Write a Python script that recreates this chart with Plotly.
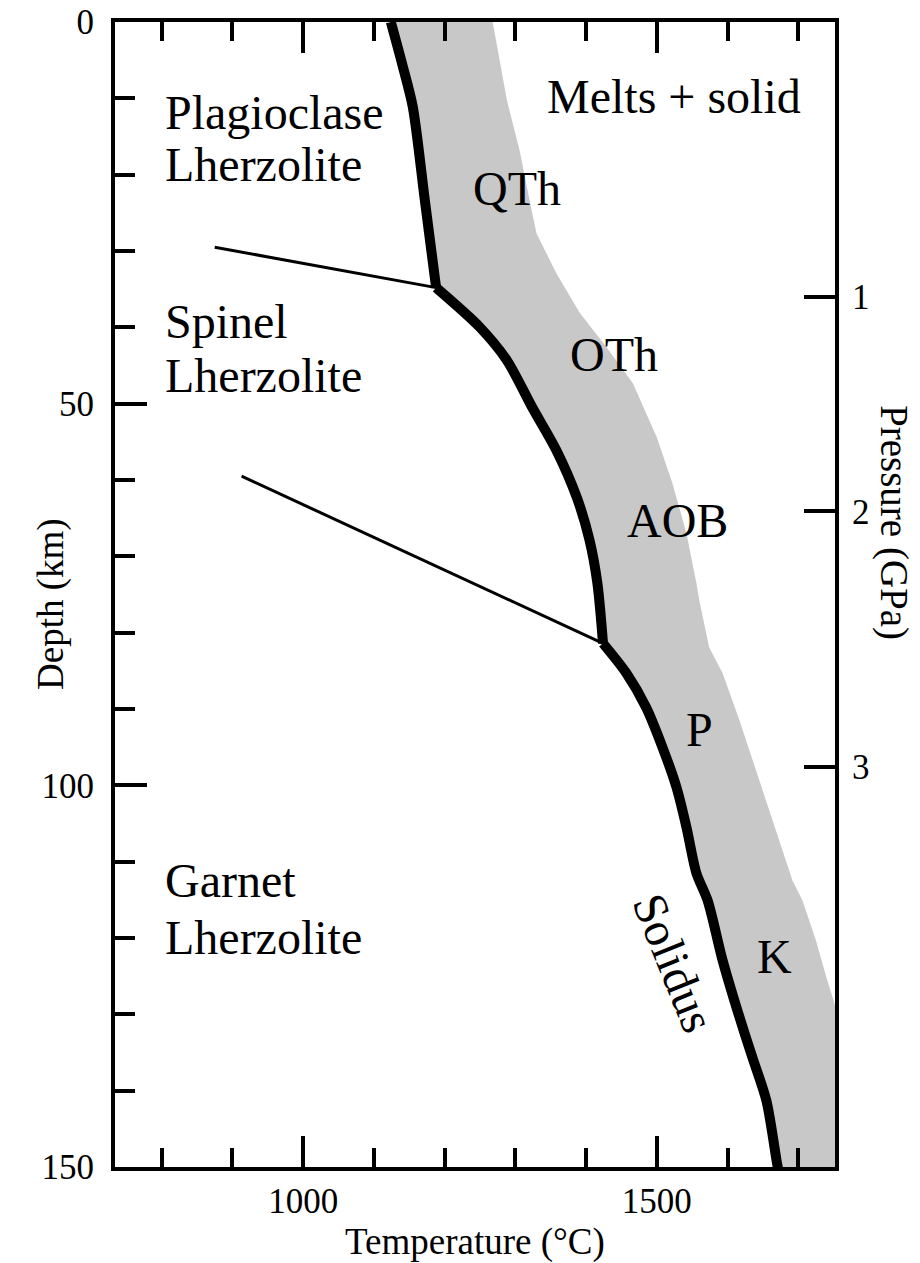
import plotly.graph_objects as go

# Solidus (temperature °C, depth km), three segments split at the phase-boundary kinks
sol_top_T = [1124, 1140, 1155, 1172, 1188]
sol_top_D = [0, 5.5, 11.1, 23.3, 34.8]
sol_mid_T = [1188, 1250, 1288, 1324, 1358, 1387, 1405, 1416, 1424]
sol_mid_D = [34.8, 40.0, 44.3, 50.5, 56.1, 62.3, 67.9, 73.5, 81.4]
sol_bot_T = [1424, 1457, 1485, 1508, 1528, 1542, 1556, 1572, 1593, 1614, 1635, 1655, 1670, 1673]
sol_bot_D = [81.4, 85.3, 89.8, 95.0, 100.3, 105.5, 111.5, 115.1, 122.9, 129.5, 135.6, 141.3, 149.5, 151]

# Right edge of melt band
band_T = [1268, 1288, 1306, 1320, 1330, 1358, 1391, 1429, 1466, 1500, 1522, 1542, 1556, 1560,
          1574, 1593, 1617, 1635, 1655, 1673, 1692, 1706, 1725, 1740, 1752, 1760, 1760]
band_D = [0, 10.2, 16.8, 23.3, 27.7, 32.9, 38.1, 42.6, 47.3, 54.4, 60.4, 67.0, 73.5, 75.7,
          81.9, 85.3, 91.5, 96.7, 102.0, 107.2, 112.5, 115.1, 120.3, 125.2, 128.8, 130, 151]

# Phase boundaries
plag_sp_T = [875, 1188]
plag_sp_D = [29.5, 34.8]
sp_gt_T = [913, 1424]
sp_gt_D = [59.5, 81.4]

# Pressure ticks (GPa) at depths (km)
pressure_labels = ["1", "2", "3"]
pressure_depths = [36.0, 64.1, 97.6]

# Labels: text, temperature, depth, anchor, angle
labels = [
    ("Plagioclase", 802, 11.8, "left", 0),
    ("Lherzolite", 802, 18.7, "left", 0),
    ("Spinel", 802, 39.3, "left", 0),
    ("Lherzolite", 802, 46.3, "left", 0),
    ("Garnet", 802, 112.5, "left", 0),
    ("Lherzolite", 802, 119.9, "left", 0),
    ("Melts + solid", 1524, 9.8, "center", 0),
    ("QTh", 1302, 21.8, "center", 0),
    ("OTh", 1440, 43.5, "center", 0),
    ("AOB", 1529, 65.3, "center", 0),
    ("P", 1560, 92.7, "center", 0),
    ("K", 1666, 122.4, "center", 0),
    ("Solidus", 1525, 123.3, "center", 68),
]

FONT = "Liberation Serif, Times New Roman, serif"
X_RANGE = [734, 1752]
Y_RANGE = [150, 0]

fig = go.Figure()

band_x = sol_top_T + sol_mid_T[1:] + sol_bot_T[1:] + band_T[::-1]
band_y = sol_top_D + sol_mid_D[1:] + sol_bot_D[1:] + band_D[::-1]
fig.add_trace(go.Scatter(x=band_x, y=band_y, fill="toself", fillcolor="#c8c8c8",
                         line=dict(width=0), mode="lines", hoverinfo="skip", showlegend=False))
fig.add_trace(go.Scatter(x=plag_sp_T, y=plag_sp_D, mode="lines",
                         line=dict(color="black", width=3), showlegend=False))
fig.add_trace(go.Scatter(x=sp_gt_T, y=sp_gt_D, mode="lines",
                         line=dict(color="black", width=3), showlegend=False))
for sx, sy in [(sol_top_T, sol_top_D), (sol_mid_T, sol_mid_D), (sol_bot_T, sol_bot_D)]:
    fig.add_trace(go.Scatter(x=sx, y=sy, mode="lines",
                             line=dict(color="black", width=10, shape="spline", smoothing=0.8),
                             showlegend=False))
fig.add_trace(go.Scatter(x=[X_RANGE[0]], y=[0], yaxis="y2", mode="markers",
                         marker=dict(opacity=0), showlegend=False, hoverinfo="skip"))

for text, x, y, anchor, ang in labels:
    fig.add_annotation(x=x, y=y, text=text, showarrow=False, xanchor=anchor, yanchor="middle",
                       textangle=ang, font=dict(family=FONT, size=48, color="black"))

fig.add_annotation(xref="paper", yref="paper", x=0.5, xshift=0,
                   y=-0.0655, yanchor="middle",
                   text="Temperature (°C)", showarrow=False,
                   font=dict(family=FONT, size=37, color="black"))
fig.add_annotation(xref="paper", yref="paper", x=0, xshift=-87, y=0.4917, yanchor="middle",
                   text="Depth (km)", showarrow=False, textangle=-90,
                   font=dict(family=FONT, size=37, color="black"))
fig.add_annotation(xref="paper", yref="paper", x=1, xshift=83, y=0.5633, yanchor="middle",
                   text="Pressure (GPa)", showarrow=False, textangle=90,
                   font=dict(family=FONT, size=39, color="black"))

fig.update_layout(
    template="none",
    width=920, height=1263,
    margin=dict(l=115, r=85, t=22, b=96, autoexpand=False),
    plot_bgcolor="white", paper_bgcolor="white",
    xaxis=dict(range=X_RANGE, showgrid=False, zeroline=False, showline=True, linecolor="black",
               linewidth=4, mirror="ticks", ticks="inside", ticklen=31, tickwidth=4,
               tickcolor="black", tick0=1000, dtick=500, ticklabelstandoff=0, automargin=False,
               tickfont=dict(family=FONT, size=35, color="black"),
               minor=dict(ticks="inside", ticklen=19, tickwidth=4, tickcolor="black",
                          dtick=100, tick0=0, showgrid=False)),
    yaxis=dict(range=Y_RANGE, showgrid=False, zeroline=False, showline=True, linecolor="black",
               linewidth=4, mirror=True, ticks="inside", ticklen=32, tickwidth=4,
               tickcolor="black", tick0=0, dtick=50, ticklabelstandoff=10, automargin=False,
               tickfont=dict(family=FONT, size=35, color="black"),
               minor=dict(ticks="inside", ticklen=20, tickwidth=4, tickcolor="black",
                          dtick=10, tick0=0, showgrid=False)),
    yaxis2=dict(range=Y_RANGE, overlaying="y", side="right", showgrid=False, zeroline=False,
                showline=False, ticks="inside", ticklen=31, tickwidth=4, tickcolor="black",
                tickvals=pressure_depths, ticktext=pressure_labels, ticklabelstandoff=16,
                automargin=False, tickfont=dict(family=FONT, size=35, color="black")),
)

fig.write_html("out.html", config={"displayModeBar": False},
               post_script="document.body.style.margin='0';document.body.style.overflow='hidden';")
